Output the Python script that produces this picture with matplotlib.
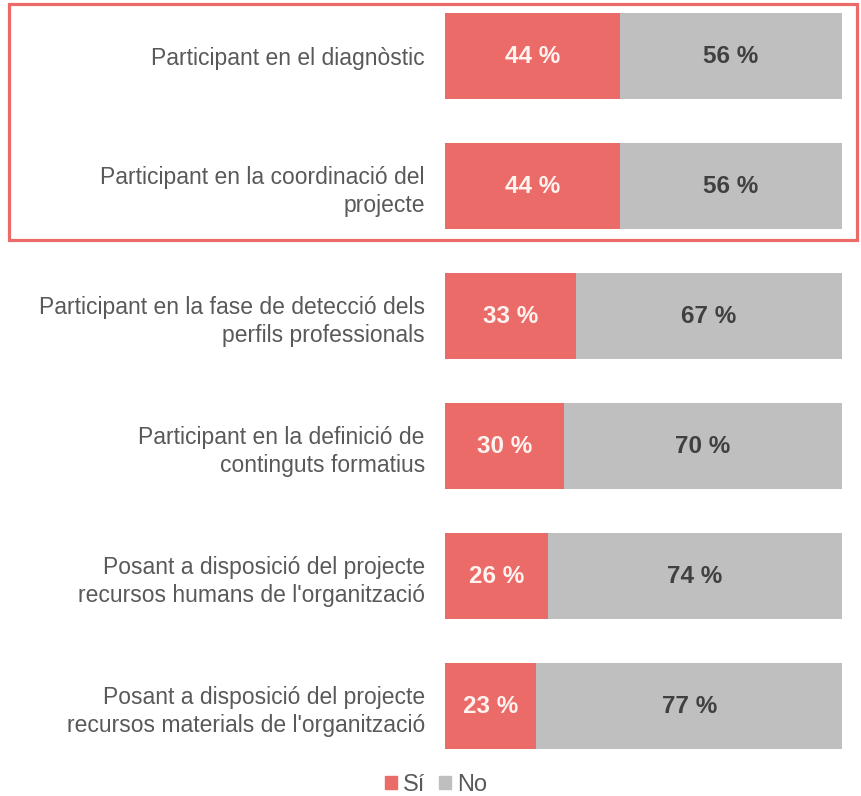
import matplotlib.pyplot as plt
from matplotlib.patches import Patch, Rectangle

CATEGORIES = [
    "Participant en el diagnòstic",
    "Participant en la coordinació del\nprojecte",
    "Participant en la fase de detecció dels\nperfils professionals",
    "Participant en la definició de\ncontinguts formatius",
    "Posant a disposició del projecte\nrecursos humans de l'organització",
    "Posant a disposició del projecte\nrecursos materials de l'organització",
]
SI = [44, 44, 33, 30, 26, 23]
NO = [56, 56, 67, 70, 74, 77]

RED = "#EB6B69"
GRAY = "#BFBFBF"
TEXT = "#595959"

plt.rcParams["font.family"] = ["Liberation Sans", "DejaVu Sans"]

W, H = 861, 796
fig = plt.figure(figsize=(W / 100, H / 100), dpi=100)
ax = fig.add_axes([445 / W, (H - 749) / H, 397 / W, 735.8 / H])

ypos = list(range(len(CATEGORIES)))
ax.barh(ypos, SI, height=0.66, color=RED, edgecolor="none")
ax.barh(ypos, NO, left=SI, height=0.66, color=GRAY, edgecolor="none")

for y, s, n in zip(ypos, SI, NO):
    ax.text(s / 2, y, f"{s} %", ha="center", va="center",
            fontsize=17.5, fontweight="bold", color="#FFF3F0")
    ax.text(s + n / 2, y, f"{n} %", ha="center", va="center",
            fontsize=17.5, fontweight="bold", color="#404040")

ax.set_xlim(0, 100)
ax.set_ylim(5.33, -0.33)
ax.set_yticks(ypos)
ax.set_yticklabels(CATEGORIES, fontsize=16.5, color=TEXT, linespacing=1.32)
ax.tick_params(axis="y", length=0, pad=14.5)
ax.set_xticks([])
for sp in ax.spines.values():
    sp.set_visible(False)

# highlight box around first two rows
fig.add_artist(Rectangle((9 / W, (H - 240) / H), 848 / W, 236 / H,
                         transform=fig.transFigure, fill=False,
                         edgecolor=RED, linewidth=2.3))

handles = [Patch(color=RED, label="Sí"), Patch(color=GRAY, label="No")]
fig.legend(handles=handles, loc="center", bbox_to_anchor=(436 / W, 1 - 785 / H),
           ncol=2, frameon=False, fontsize=17, labelcolor=TEXT,
           handlelength=0.5, handleheight=0.5, handletextpad=0.25,
           columnspacing=0.6)

fig.savefig("out.png", dpi=100)
